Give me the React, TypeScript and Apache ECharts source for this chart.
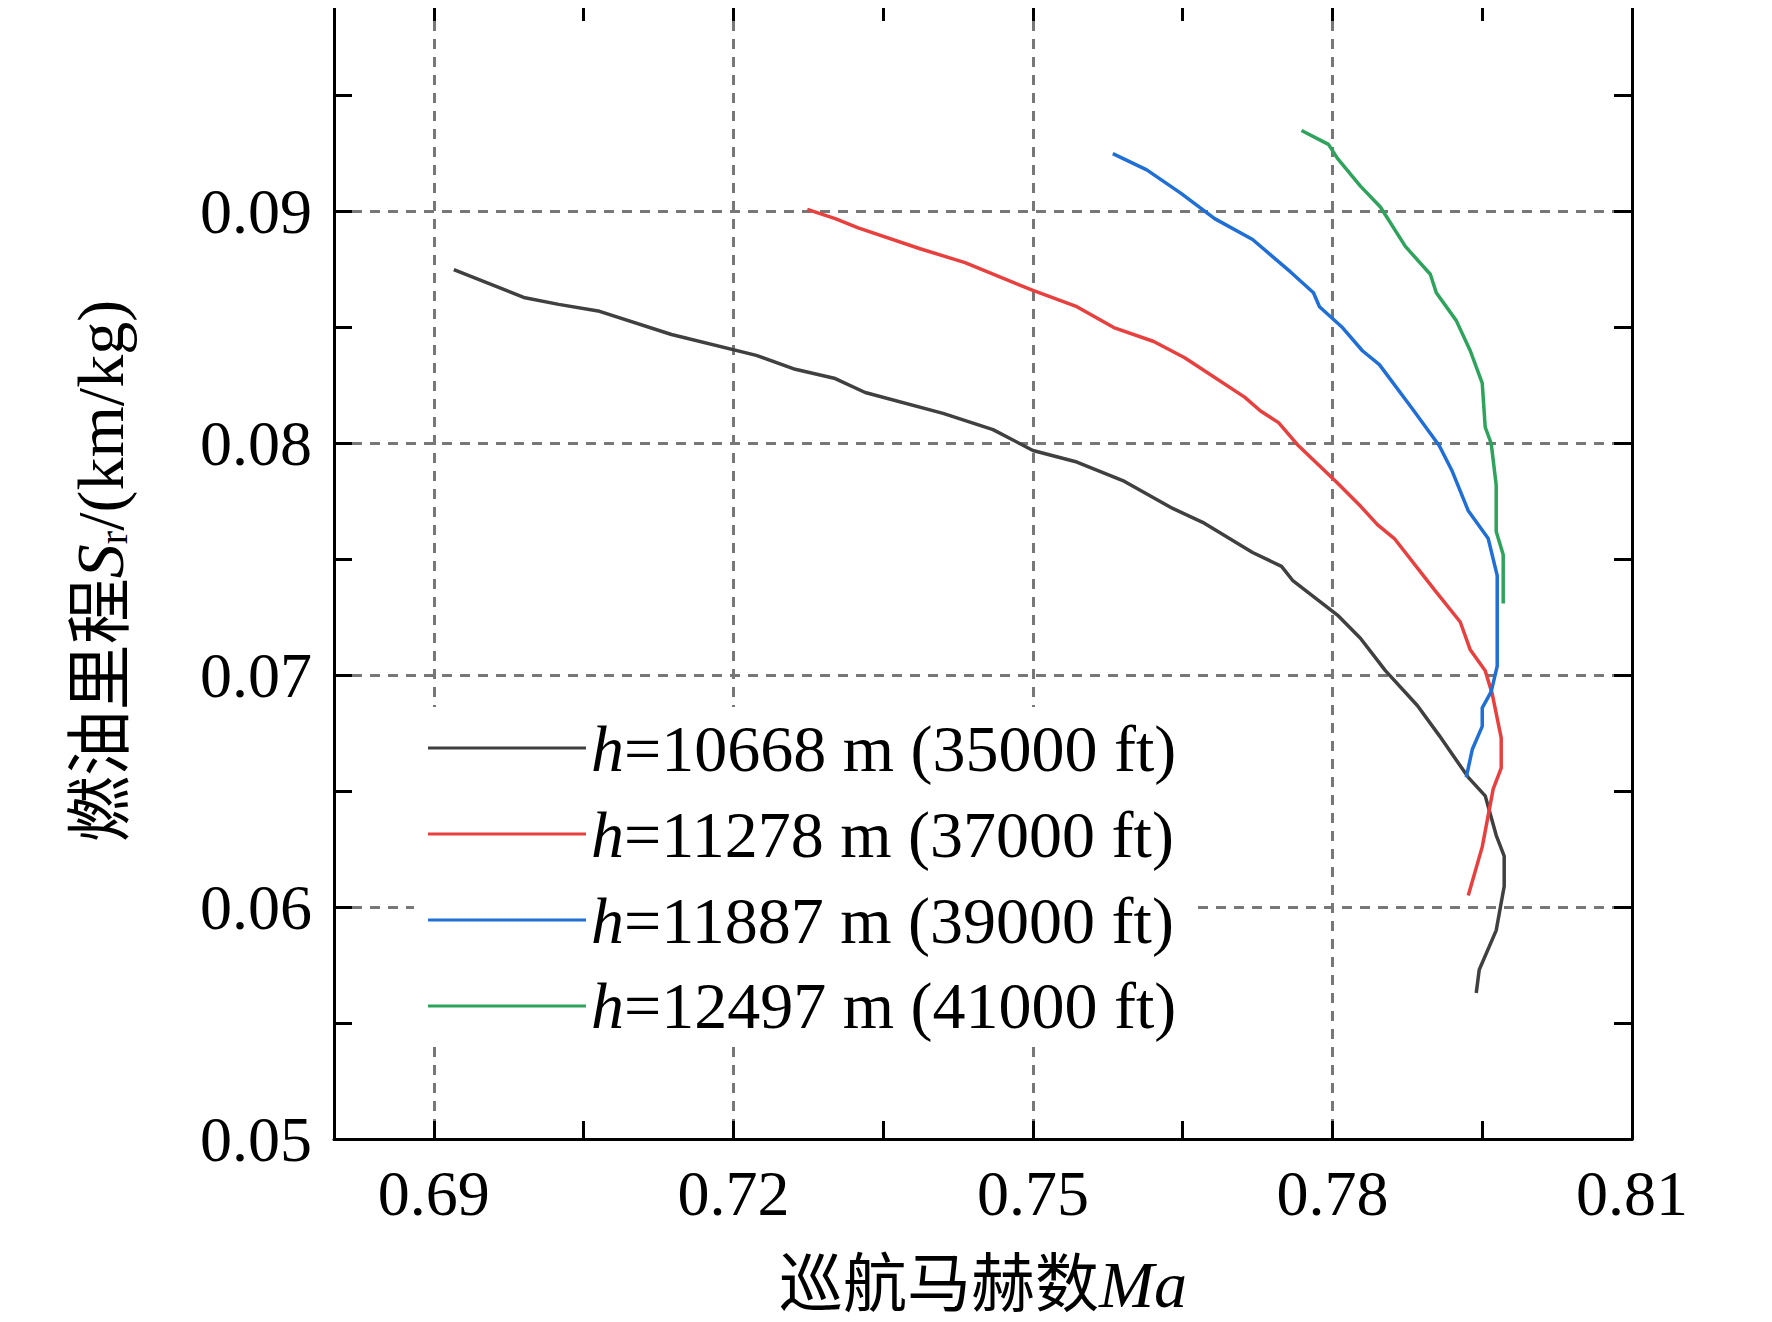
import { useEffect, useRef } from 'react';
import * as echarts from 'echarts';

const names = ['10668 m (35000 ft)', '11278 m (37000 ft)', '11887 m (39000 ft)', '12497 m (41000 ft)'];
const colors = ['#404040', '#e8403e', '#1f6fd6', '#2ea35c'];

const s35000: number[][] = [
  [0.692, 0.0875], [0.699, 0.0863], [0.7025, 0.086], [0.7066, 0.0857], [0.7138, 0.0847], [0.7223, 0.0838],
  [0.7262, 0.0832], [0.7302, 0.0828], [0.7332, 0.0822], [0.741, 0.0813], [0.746, 0.0806], [0.75, 0.0797],
  [0.7544, 0.0792], [0.759, 0.0784], [0.764, 0.0772], [0.767, 0.0766], [0.772, 0.0753], [0.7749, 0.0747],
  [0.776, 0.0741], [0.7805, 0.0726], [0.7828, 0.0716], [0.7853, 0.0702], [0.7885, 0.0687], [0.7907, 0.0674],
  [0.7936, 0.0656], [0.7953, 0.0648], [0.7964, 0.0631], [0.7972, 0.0622], [0.7972, 0.0609], [0.7964, 0.059],
  [0.7947, 0.0573], [0.7944, 0.0563],
];
const s37000: number[][] = [
  [0.7274, 0.0901], [0.7302, 0.0897], [0.7325, 0.0893], [0.7387, 0.0884], [0.7432, 0.0878], [0.75, 0.0866],
  [0.7544, 0.0859], [0.7581, 0.085], [0.7621, 0.0844], [0.7652, 0.0837], [0.7712, 0.082], [0.7728, 0.0814],
  [0.7746, 0.0809], [0.7766, 0.0799], [0.7805, 0.0783], [0.7828, 0.0773], [0.7845, 0.0765], [0.7862, 0.0759],
  [0.7902, 0.0737], [0.7928, 0.0723], [0.7938, 0.0711], [0.7953, 0.0702], [0.796, 0.0692], [0.7969, 0.0673],
  [0.7969, 0.066], [0.7961, 0.0651], [0.795, 0.0626], [0.7936, 0.0605],
];
const s39000: number[][] = [
  [0.758, 0.0925], [0.7614, 0.0918], [0.7648, 0.0908], [0.7682, 0.0897], [0.772, 0.0888], [0.7758, 0.0874],
  [0.7781, 0.0865], [0.7787, 0.0859], [0.781, 0.085], [0.783, 0.084], [0.7847, 0.0834], [0.788, 0.0815],
  [0.7907, 0.0799], [0.792, 0.0788], [0.7936, 0.0771], [0.7956, 0.0759], [0.7965, 0.0743], [0.7965, 0.0704],
  [0.7959, 0.0693], [0.795, 0.0686], [0.795, 0.0678], [0.794, 0.0668], [0.7934, 0.0656],
];
const s41000: number[][] = [
  [0.7769, 0.0935], [0.7796, 0.0929], [0.7805, 0.0923], [0.7828, 0.0911], [0.7848, 0.0902], [0.7873, 0.0885],
  [0.7898, 0.0873], [0.7904, 0.0865], [0.7924, 0.0853], [0.7938, 0.084], [0.795, 0.0826], [0.7953, 0.0807],
  [0.7959, 0.08], [0.7964, 0.0782], [0.7964, 0.0762], [0.7971, 0.0752], [0.7971, 0.0731],
];
const seriesData = [s35000, s37000, s39000, s41000];

const xMajor = [0.69, 0.72, 0.75, 0.78, 0.81];
const xTicks = [0.69, 0.705, 0.72, 0.735, 0.75, 0.765, 0.78, 0.795, 0.81];

const font = '"Liberation Serif", "Noto Sans CJK SC", serif';

const App = () => {
  const ref = useRef<HTMLDivElement | null>(null);

  useEffect(() => {
    if (!ref.current) return;
    const chart = echarts.init(ref.current, null, { renderer: 'svg' });
    const tick = { show: true, inside: true, length: 18, lineStyle: { color: '#000', width: 3 } };
    const axisLine = { show: true, lineStyle: { color: '#000', width: 3 } };
    const split = { show: true, lineStyle: { color: '#777', width: 3, type: [10, 8] as number[] } };
    const base = { type: 'value' as const, min: 0.68, max: 0.81 };
    const yBase = { type: 'value' as const, min: 0.05, max: 0.099, interval: 0.01 };
    chart.setOption({
      animation: false,
      backgroundColor: '#fff',
      grid: { left: 334, top: 3, width: 1298, height: 1152 },
      xAxis: [
        {
          ...base, position: 'bottom', axisLine, splitLine: { show: false },
          axisTick: { ...tick, customValues: xTicks },
          axisLabel: { customValues: xMajor, fontFamily: font, fontSize: 64, color: '#000', margin: 22, formatter: (v: number) => v.toFixed(2) },
          name: '{a|巡航马赫数}{i|Ma}', nameLocation: 'middle', nameGap: 112,
          nameTextStyle: { rich: { a: { fontFamily: font, fontSize: 64, color: '#000' }, i: { fontFamily: font, fontSize: 66, fontStyle: 'italic', color: '#000' } } },
        },
        {
          ...base, position: 'bottom', axisLine: { show: false }, axisLabel: { show: false },
          axisTick: { show: false, customValues: xMajor }, splitLine: split,
        },
        {
          ...base, position: 'top', axisLine, axisLabel: { show: false }, splitLine: { show: false },
          axisTick: { ...tick, customValues: xTicks },
        },
      ],
      yAxis: [
        {
          ...yBase, position: 'left', axisLine, splitLine: split,
          axisTick: tick, minorTick: { show: true, splitNumber: 2, length: 18, lineStyle: { color: '#000', width: 3 } },
          axisLabel: { fontFamily: font, fontSize: 64, color: '#000', margin: 22, showMaxLabel: false, formatter: (v: number) => v.toFixed(2) },
          name: '{a|燃油里程}{i|S}{s|r}{a|/(km/kg)}', nameLocation: 'middle', nameGap: 200, nameRotate: 90,
          nameTextStyle: {
            rich: {
              a: { fontFamily: font, fontSize: 66, color: '#000' },
              i: { fontFamily: font, fontSize: 68, fontStyle: 'italic', color: '#000' },
              s: { fontFamily: font, fontSize: 40, color: '#000', padding: [26, 0, 0, 0] },
            },
          },
        },
        {
          ...yBase, position: 'right', axisLine, splitLine: { show: false }, axisLabel: { show: false },
          axisTick: tick, minorTick: { show: true, splitNumber: 2, length: 18, lineStyle: { color: '#000', width: 3 } },
        },
      ],
      legend: {
        left: 414, top: 707, orient: 'vertical', backgroundColor: '#fff', padding: [8, 14, 8, 14],
        itemGap: 20, itemWidth: 158, itemHeight: 3, icon: 'rect',
        data: names,
        formatter: (n: string) => '{i|h}{a|=' + n + '}',
        textStyle: {
          rich: {
            i: { fontFamily: font, fontSize: 66, fontStyle: 'italic', color: '#000' },
            a: { fontFamily: font, fontSize: 66, color: '#000' },
          },
        },
      },
      series: seriesData.map((d, i) => ({
        name: names[i], type: 'line', data: d, showSymbol: false, symbol: 'none',
        lineStyle: { color: colors[i], width: 3.5 }, itemStyle: { color: colors[i] }, z: 3,
      })),
    });
    return () => chart.dispose();
  }, []);

  return <div ref={ref} style={{ width: 1772, height: 1322, margin: -8 }} />;
};

export default App;
